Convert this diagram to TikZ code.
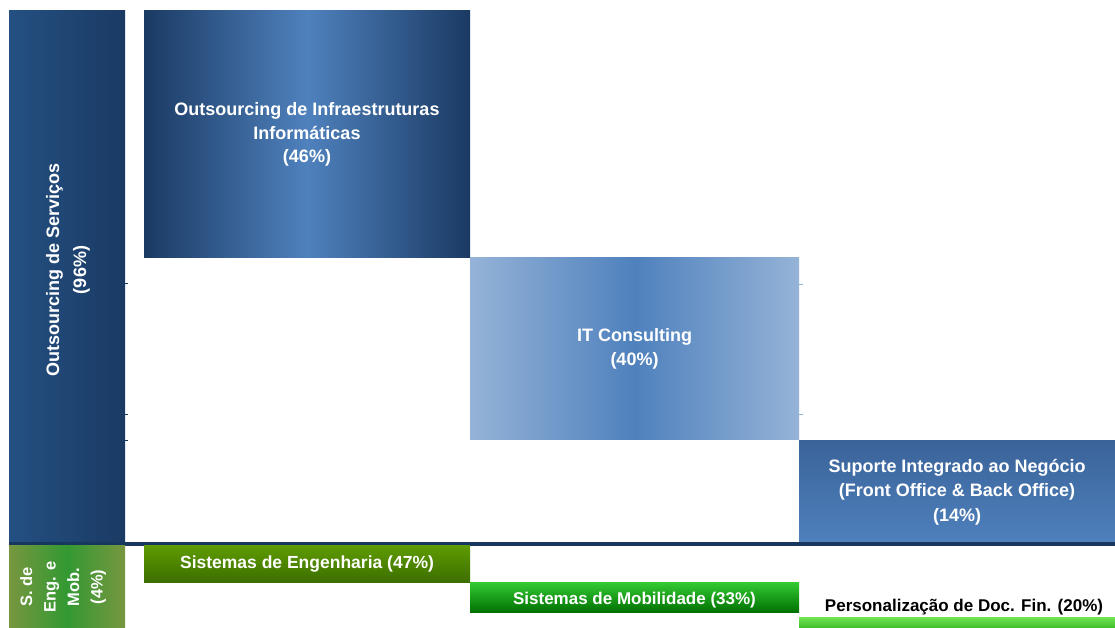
\documentclass[tikz,border=0pt]{standalone}
\usepackage{fontspec}
\setmainfont{Liberation Sans}
\begin{document}
\begin{tikzpicture}[x=1pt,y=1pt,
  box/.style={rectangle, inner sep=0pt, outer sep=0pt, draw=none, align=center, font=\bfseries\fontsize{18}{23.5}\selectfont, text=white},
  gbox/.style={rectangle, inner sep=0pt, outer sep=0pt, draw=none, align=center, font=\bfseries\fontsize{17.5}{20}\selectfont, text=white},
  tick/.style={line width=0.8pt}]
\definecolor{navyD}{HTML}{1A3A63}
\definecolor{navyL}{HTML}{245082}
\definecolor{midB}{HTML}{4F81BD}
\definecolor{lightB}{HTML}{95B3D7}
\definecolor{topB}{HTML}{3A6399}
\definecolor{lineD}{HTML}{17375E}
\definecolor{olive}{HTML}{77963F}
\definecolor{gmid}{HTML}{339933}
\useasboundingbox (0,0) rectangle (1115,628);
\fill[white] (0,0) rectangle (1115,628);
% left service bar
\node[box, minimum width=116pt, minimum height=532pt, left color=navyL, right color=navyD] (os) at (67,351) {};
\node[box, rotate=90, font=\bfseries\fontsize{18}{27}\selectfont] (ostxt) at (68,358) {Outsourcing de Serviços\\(96\%)};
% main boxes
\node[box, minimum width=326pt, minimum height=247pt, left color=navyD, right color=navyD, middle color=midB] (b1) at (307,493.5) {Outsourcing de Infraestruturas\\Informáticas\\(46\%)};
\node[box, minimum width=329pt, minimum height=182pt, left color=lightB, right color=lightB, middle color=midB] (b2) at (634.5,279) {IT Consulting\\(40\%)};
\node[box, minimum width=316pt, minimum height=103pt, top color=topB, bottom color=midB, font=\bfseries\fontsize{18}{24.5}\selectfont] (b3) at (957,136) {Suporte Integrado ao Negócio\\(Front Office \& Back Office)\\(14\%)};
% dark separator
\node[box, minimum width=1106pt, minimum height=4pt, fill=lineD] (sep) at (562,84) {};
% ticks
\draw[tick, lineD] (os.east |- 0,345) -- ++(3,0);
\draw[tick, lineD] (os.east |- 0,214) -- ++(3,0);
\draw[tick, lineD] (os.east |- 0,188) -- ++(3,0);
\draw[tick, lightB] (b2.east |- 0,344) -- ++(4,0);
\draw[tick, lightB] (b2.east |- 0,214) -- ++(4,0);
% green row
\node[box, minimum width=116pt, minimum height=82pt, left color=olive, right color=olive, middle color=gmid] (sm) at (67,41) {};
\node[gbox, rotate=90, font=\bfseries\fontsize{16.5}{23.5}\selectfont] (smtxt) at (63,41) {S. de\\Eng. e\\Mob.\\(4\%)};
\node[gbox, minimum width=326pt, minimum height=37pt, top color={rgb,255:red,94;green,154;blue,0}, bottom color={rgb,255:red,60;green,110;blue,0}] (eng) at (307,63.5) {Sistemas de Engenharia (47\%)};
\node[box, minimum width=329pt, minimum height=30pt, top color={rgb,255:red,50;green,200;blue,50}, bottom color={rgb,255:red,0;green,110;blue,0}] (mob) at (634.5,30) {};
\node[gbox, font=\bfseries\fontsize{17}{20}\selectfont] (mobtxt) at (634.5,28) {Sistemas de Mobilidade (33\%)};
\node[box, minimum width=316pt, minimum height=10pt, top color={rgb,255:red,110;green,225;blue,80}, bottom color={rgb,255:red,60;green,190;blue,40}] (pers) at (957,5) {};
\node[gbox, text=black, font=\bfseries\fontsize{17}{20}\selectfont] (perstxt) at (964,20.5) {Personalização de Doc. Fin. (20\%)};
\end{tikzpicture}
\end{document}
